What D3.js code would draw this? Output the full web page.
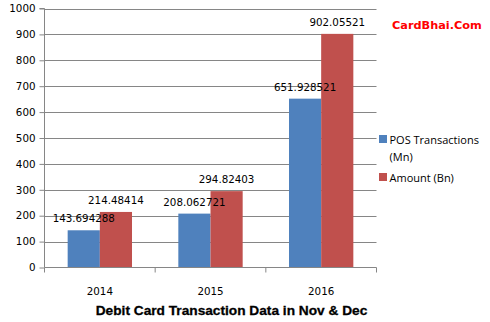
<!DOCTYPE html>
<html><head><meta charset="utf-8">
<script src="https://cdn.jsdelivr.net/npm/d3@7"></script>
<style>body{margin:0;background:#fff}svg{display:block}</style>
</head><body>
<script>
const categories = ["2014", "2015", "2016"];
const seriesNames = ["POS Transactions (Mn)", "Amount (Bn)"];
const posValues = [143.694288, 208.062721, 651.928521];
const amountValues = [214.48414, 294.82403, 902.05521];
const posLabels = ["143.694288", "208.062721", "651.928521"];
const amountLabels = ["214.48414", "294.82403", "902.05521"];
const yTicks = [0,100,200,300,400,500,600,700,800,900,1000];
const colors = ["#4F81BD", "#C0504D"];

(function(){
const W = 490, H = 322;
const svg = d3.select("body").append("svg").attr("width", W).attr("height", H);
const pLeft = 44.5, pRight = 376.5, pTop = 8.5, pBottom = 267.5;
const x = d3.scaleBand().domain(categories).range([pLeft, pRight]).paddingInner(0).paddingOuter(0);
const x1 = d3.scaleBand().domain([0,1]).range([0, x.bandwidth()]).paddingInner(0).paddingOuter(0.72);
const y = d3.scaleLinear().domain([0, 1000]).range([pBottom, pTop]);
const grid = "#868686";

svg.append("g").selectAll("line").data(yTicks.filter(d => d > 0)).join("line")
  .attr("x1", pLeft).attr("x2", pRight)
  .attr("y1", d => Math.round(y(d)) + 0.5).attr("y2", d => Math.round(y(d)) + 0.5)
  .attr("stroke", grid).attr("stroke-width", 1);

const data = categories.map((c, i) => ({c, vals: [posValues[i], amountValues[i]], labs: [posLabels[i], amountLabels[i]]}));
const g = svg.append("g");
data.forEach(d => {
  d.vals.forEach((v, j) => {
    g.append("rect")
      .attr("x", x(d.c) + x1(j)).attr("width", x1.bandwidth())
      .attr("y", y(v)).attr("height", y(0) - y(v))
      .attr("fill", colors[j]);
  });
});
data.forEach(d => {
  d.vals.forEach((v, j) => {
    g.append("text")
      .attr("x", x(d.c) + x1(j) + x1.bandwidth() / 2)
      .attr("y", y(v) - 8)
      .attr("text-anchor", "middle")
      .attr("font-family", "DejaVu Sans, Verdana, sans-serif").attr("font-size", 10.3)
      .attr("fill", "#000").text(d.labs[j]);
  });
});

const ya = d3.axisLeft(y).tickValues(yTicks).tickSize(5).tickPadding(4).tickFormat(d3.format("d"));
const yg = svg.append("g").attr("transform", `translate(${pLeft},0)`).call(ya);
yg.select(".domain").attr("stroke", grid).attr("d", `M-5,${pTop}H0V${pBottom}`);
yg.selectAll(".tick line").attr("stroke", grid);
yg.selectAll(".tick text").attr("font-family", "DejaVu Sans, Verdana, sans-serif").attr("font-size", 10.3).attr("fill", "#000");

const xa = d3.axisBottom(x).tickSize(0).tickPadding(20);
const xg = svg.append("g").attr("transform", `translate(0,${pBottom})`).call(xa);
xg.select(".domain").attr("stroke", grid).attr("d", `M${pLeft},0H${pRight}`);
xg.selectAll(".tick text").attr("font-family", "DejaVu Sans, Verdana, sans-serif").attr("font-size", 10.3).attr("fill", "#000");
const bounds = categories.map(c => x(c)).concat([pRight]);
xg.append("g").selectAll("line").data(bounds).join("line")
  .attr("x1", d => d).attr("x2", d => d).attr("y1", 0).attr("y2", 5).attr("stroke", grid);

svg.append("text").attr("x", 231.5).attr("y", 315).attr("text-anchor", "middle")
  .attr("font-family", "Liberation Sans, Arial, sans-serif").attr("font-weight", "bold").attr("font-size", 13.7)
  .attr("stroke", "#000").attr("stroke-width", 0.3)
  .attr("fill", "#000").text("Debit Card Transaction Data in Nov & Dec");

svg.append("text").attr("x", 392).attr("y", 29)
  .attr("font-family", "DejaVu Sans, Verdana, sans-serif").attr("font-weight", "bold").attr("font-size", 11.3)
  .attr("fill", "#FF0000").text("CardBhai.Com");

const lg = svg.append("g");
const legendRows = [{i:0, lines:["POS Transactions", "(Mn)"], y:135}, {i:1, lines:["Amount (Bn)"], y:173}];
legendRows.forEach(r => {
  lg.append("rect").attr("x", 379).attr("y", r.y).attr("width", 8).attr("height", 8).attr("fill", colors[r.i]);
  r.lines.forEach((t, k) => {
    lg.append("text").attr("x", 389.5).attr("y", r.y + 8.5 + k * 17)
      .attr("font-family", "Open Sans, Liberation Sans, sans-serif").attr("font-size", 11)
      .attr("fill", "#000").text(t);
  });
});
})();
</script>
</body></html>
